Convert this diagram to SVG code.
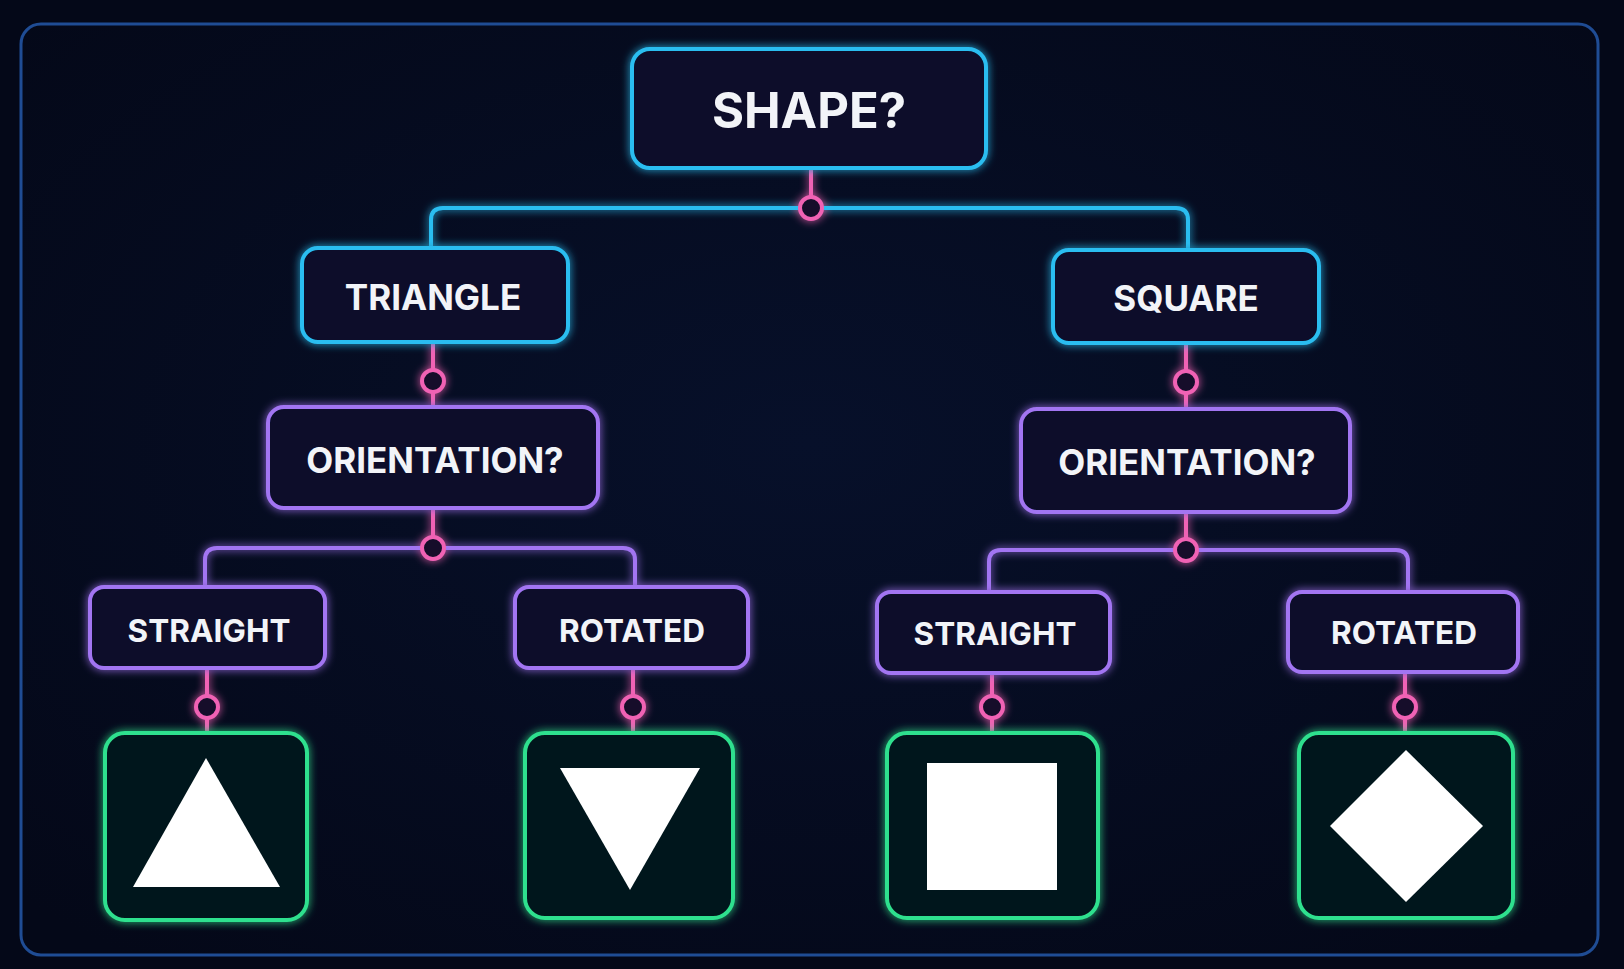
<svg xmlns="http://www.w3.org/2000/svg" width="1624" height="969" viewBox="0 0 1624 969">
<defs>
<filter id="glow" x="-20%" y="-20%" width="140%" height="140%">
<feGaussianBlur in="SourceGraphic" stdDeviation="4" result="b"/>
<feMerge><feMergeNode in="b"/><feMergeNode in="SourceGraphic"/></feMerge>
</filter>
<radialGradient id="bg" cx="50%" cy="45%" r="70%">
<stop offset="0" stop-color="#07102a"/>
<stop offset="1" stop-color="#040818"/>
</radialGradient>
</defs>
<style>
.cy{fill:#07112c;stroke:#2bbdf0;stroke-width:4}
.pu{fill:#0a0f2c;stroke:#a274f2;stroke-width:4}
.gr{fill:#04121b;stroke:#2fe08e;stroke-width:4}
.lc{fill:none;stroke:#2bbdf0;stroke-width:4}
.lp{fill:none;stroke:#a274f2;stroke-width:4}
.pk{fill:none;stroke:#f062b4;stroke-width:4}
.dot{fill:#140c2a;stroke:#f062b4;stroke-width:4}
.t{font-family:Inter,"Liberation Sans",sans-serif;font-weight:700;fill:#f2f4f8;text-anchor:middle}
.sh{fill:#ffffff}
</style>
<rect width="1624" height="969" fill="#040818"/>
<rect x="21" y="24" width="1577" height="931" rx="20" fill="url(#bg)" stroke="#1f4c94" stroke-width="3"/>

<g id="connectors" filter="url(#glow)">
<path class="lc" d="M431,248 V220 Q431,208 443,208 H1176 Q1188,208 1188,220 V250"/>
<path class="lp" d="M205,587 V560 Q205,548 217,548 H623 Q635,548 635,560 V587"/>
<path class="lp" d="M989,592 V562 Q989,550 1001,550 H1396 Q1408,550 1408,562 V592"/>
<path class="pk" d="M811,168 V196"/>
<path class="pk" d="M433,342 V369 M433,393 V407"/>
<path class="pk" d="M1186,343 V370 M1186,394 V409"/>
<path class="pk" d="M433,508 V536"/>
<path class="pk" d="M1186,512 V538"/>
<path class="pk" d="M207,668 V695 M207,719 V733"/>
<path class="pk" d="M633,668 V695 M633,719 V733"/>
<path class="pk" d="M992,673 V695 M992,719 V733"/>
<path class="pk" d="M1405,672 V695 M1405,719 V733"/>
<circle class="dot" cx="811" cy="208" r="11"/>
<circle class="dot" cx="433" cy="381" r="11"/>
<circle class="dot" cx="1186" cy="382" r="11"/>
<circle class="dot" cx="433" cy="548" r="11"/>
<circle class="dot" cx="1186" cy="550" r="11"/>
<circle class="dot" cx="207" cy="707" r="11"/>
<circle class="dot" cx="633" cy="707" r="11"/>
<circle class="dot" cx="992" cy="707" r="11"/>
<circle class="dot" cx="1405" cy="707" r="11"/>
</g>

<g id="shape">
<rect class="cy" x="632" y="49" width="354" height="119" rx="18" filter="url(#glow)"/>
<text class="t" x="809" y="128" font-size="49">SHAPE?</text>
</g>
<g id="triangle">
<rect class="cy" x="302" y="248" width="266" height="94" rx="16" filter="url(#glow)"/>
<text class="t" x="433" y="310" font-size="35">TRIANGLE</text>
</g>
<g id="square">
<rect class="cy" x="1053" y="250" width="266" height="93" rx="16" filter="url(#glow)"/>
<text class="t" x="1186" y="311" font-size="35">SQUARE</text>
</g>
<g id="orientation-left">
<rect class="pu" x="268" y="407" width="330" height="101" rx="16" filter="url(#glow)"/>
<text class="t" x="435" y="473" font-size="35">ORIENTATION?</text>
</g>
<g id="orientation-right">
<rect class="pu" x="1021" y="409" width="329" height="103" rx="16" filter="url(#glow)"/>
<text class="t" x="1187" y="475" font-size="35">ORIENTATION?</text>
</g>
<g id="straight-left">
<rect class="pu" x="90" y="587" width="235" height="81" rx="14" filter="url(#glow)"/>
<text class="t" x="209" y="642" font-size="31.5">STRAIGHT</text>
</g>
<g id="rotated-left">
<rect class="pu" x="515" y="587" width="233" height="81" rx="14" filter="url(#glow)"/>
<text class="t" x="632" y="642" font-size="31.5">ROTATED</text>
</g>
<g id="straight-right">
<rect class="pu" x="877" y="592" width="233" height="81" rx="14" filter="url(#glow)"/>
<text class="t" x="995" y="645" font-size="31.5">STRAIGHT</text>
</g>
<g id="rotated-right">
<rect class="pu" x="1288" y="592" width="230" height="80" rx="14" filter="url(#glow)"/>
<text class="t" x="1404" y="644" font-size="31.5">ROTATED</text>
</g>

<g id="leaf-triangle-up">
<rect class="gr" x="105" y="733" width="202" height="187" rx="20" filter="url(#glow)"/>
<polygon class="sh" points="206,758 280,887 133,887"/>
</g>
<g id="leaf-triangle-down">
<rect class="gr" x="525" y="733" width="208" height="185" rx="20" filter="url(#glow)"/>
<polygon class="sh" points="560,768 700,768 630,890"/>
</g>
<g id="leaf-square">
<rect class="gr" x="887" y="733" width="211" height="185" rx="20" filter="url(#glow)"/>
<rect class="sh" x="927" y="763" width="130" height="127"/>
</g>
<g id="leaf-diamond">
<rect class="gr" x="1299" y="733" width="214" height="185" rx="20" filter="url(#glow)"/>
<polygon class="sh" points="1406,750 1483,826 1406,902 1330,826"/>
</g>
</svg>
